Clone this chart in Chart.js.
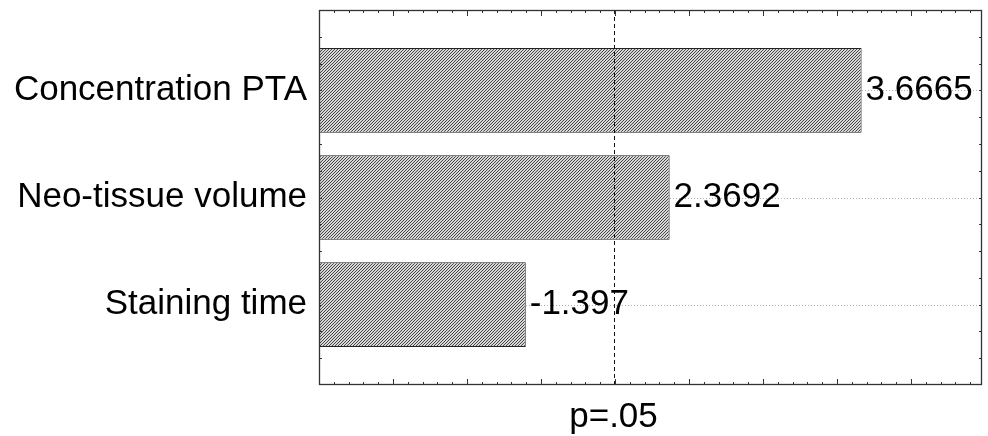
<!DOCTYPE html>
<html>
<head>
<meta charset="utf-8">
<script src="https://cdn.jsdelivr.net/npm/chart.js@4.4.1/dist/chart.umd.min.js"></script>
<style>
  body { margin: 0; background: #fff; }
  canvas { display: block; }
</style>
</head>
<body>
<canvas id="pareto" width="988" height="436"></canvas>
<script>
// Pareto chart of standardized effects
const categories = ["Concentration PTA", "Neo-tissue volume", "Staining time"];
const effects = [3.6665, 2.3692, -1.397];
const pCritical = 1.99;          // p=.05 reference line
const pLabel = "p=.05";
const xMax = 4.48;
const yMin = -0.75, yMax = 2.75;

const FONT = "'Liberation Sans', Arial, sans-serif";
const FONT_SIZE = 35;

// bars are drawn at the absolute effect, labels keep the sign
const barData = effects.map((v, i) => ({ x: Math.abs(v), y: i }));

// diagonal hatch fill
function hatch() {
    const c = document.createElement("canvas");
    c.width = 3; c.height = 3;
    const g = c.getContext("2d");
    g.fillStyle = "#d8d8d8";
    g.fillRect(0, 0, 3, 3);
    g.fillStyle = "#454545";
    for (let x = 0; x < 3; x++) g.fillRect(x, 2 - x, 1, 1);
    return g.createPattern(c, "repeat");
}

const framePlugin = {
    id: "frame",
    beforeDatasetsDraw(chart) {
        const { ctx, chartArea: a, scales: { y } } = chart;
        ctx.save();
        ctx.strokeStyle = "#b0b0b0";
        ctx.lineWidth = 1;
        ctx.setLineDash([1, 2]);
        categories.forEach((c, i) => {
            const py = Math.round(y.getPixelForValue(i)) + 0.5;
            ctx.beginPath();
            ctx.moveTo(a.left, py);
            ctx.lineTo(a.right, py);
            ctx.stroke();
        });
        ctx.restore();
    },
    afterDatasetsDraw(chart) {
        const { ctx, chartArea: a, scales: { x, y } } = chart;
        ctx.save();

        // critical value line
        const px = Math.round(x.getPixelForValue(pCritical)) + 0.5;
        ctx.strokeStyle = "#111";
        ctx.lineWidth = 1;
        ctx.setLineDash([4, 3]);
        ctx.beginPath();
        ctx.moveTo(px, a.top);
        ctx.lineTo(px, a.bottom);
        ctx.stroke();
        ctx.setLineDash([]);

        // value labels
        ctx.fillStyle = "#000";
        ctx.font = FONT_SIZE + "px " + FONT;
        ctx.textAlign = "left";
        ctx.textBaseline = "middle";
        chart.getDatasetMeta(0).data.forEach((bar, i) => {
            ctx.fillText(String(effects[i]), bar.x + 4, bar.y);
        });

        // frame
        ctx.strokeStyle = "#333";
        ctx.lineWidth = 1.3;
        ctx.strokeRect(a.left + 0.5, a.top + 0.5, a.right - a.left - 1, a.bottom - a.top - 1);

        // inward ticks on x (top and bottom)
        ctx.lineWidth = 1;
        ctx.beginPath();
        for (let k = 0; k / 10 <= xMax; k++) {
            const tx = Math.round(x.getPixelForValue(k / 10)) + 0.5;
            const len = k % 5 === 0 ? 6 : 3;
            ctx.moveTo(tx, a.bottom);
            ctx.lineTo(tx, a.bottom - len);
            ctx.moveTo(tx, a.top);
            ctx.lineTo(tx, a.top + len);
        }
        // inward ticks on y (left and right)
        for (let k = 1; yMin + k * 0.25 < yMax; k++) {
            const ty = Math.round(y.getPixelForValue(yMin + k * 0.25)) + 0.5;
            ctx.moveTo(a.left, ty);
            ctx.lineTo(a.left + 3, ty);
            ctx.moveTo(a.right, ty);
            ctx.lineTo(a.right - 3, ty);
        }
        ctx.stroke();
        ctx.restore();
    }
};

new Chart(document.getElementById("pareto"), {
    type: "bar",
    data: {
        datasets: [{
            data: barData,
            backgroundColor: hatch(),
            borderColor: "#222",
            borderWidth: 1,
            borderSkipped: false,
            categoryPercentage: 1,
            barPercentage: 0.79
        }]
    },
    options: {
        indexAxis: "y",
        responsive: false,
        animation: false,
        layout: { padding: { left: 0, right: 6, top: 10, bottom: 0 } },
        plugins: { legend: { display: false }, tooltip: { enabled: false } },
        scales: {
            x: {
                type: "linear",
                min: 0,
                max: xMax,
                offset: false,
                grid: { display: false, drawTicks: false },
                border: { display: false },
                afterBuildTicks: (s) => { s.ticks = [{ value: pCritical }]; },
                afterFit: (s) => {
                    s.height = 51;
                    s.paddingLeft = 0; s.paddingRight = 0;
                },
                ticks: {
                    callback: () => pLabel,
                    color: "#000",
                    padding: 11,
                    maxRotation: 0,
                    font: { family: FONT, size: FONT_SIZE }
                }
            },
            y: {
                type: "linear",
                min: yMin,
                max: yMax,
                offset: false,
                reverse: true,
                grid: { display: false, drawTicks: false },
                border: { display: false },
                afterBuildTicks: (s) => { s.ticks = categories.map((c, i) => ({ value: i })); },
                afterFit: (s) => {
                    s.width = 319;
                    s.paddingTop = 0; s.paddingBottom = 0;
                },
                ticks: {
                    callback: (v) => categories[v],
                    color: "#000",
                    padding: 12,
                    font: { family: FONT, size: FONT_SIZE }
                }
            }
        }
    },
    plugins: [framePlugin]
});
</script>
</body>
</html>
